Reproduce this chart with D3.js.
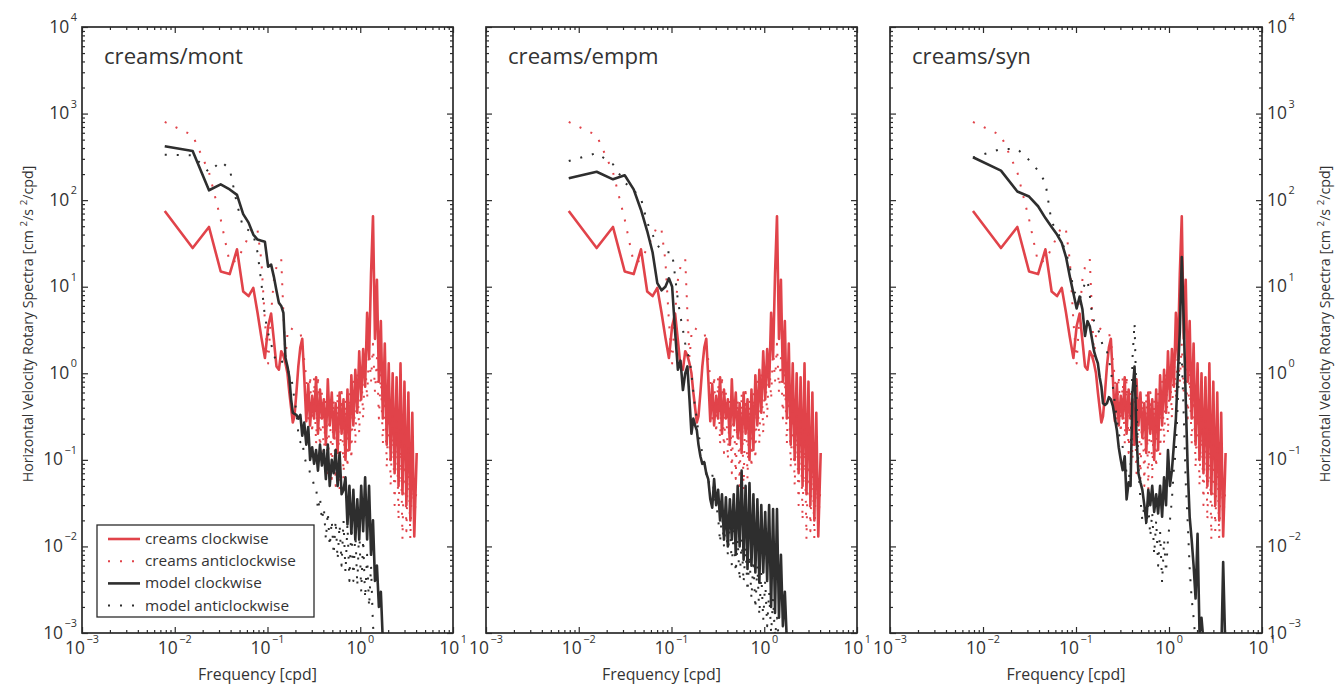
<!DOCTYPE html>
<html><head><meta charset="utf-8">
<script src="https://cdn.jsdelivr.net/npm/d3@7"></script>
<style>
body{margin:0;background:#fff}
svg{display:block}
text{font-family:"Open Sans",sans-serif;fill:#333}
</style>
</head><body>
<svg id="c" width="1340" height="685"></svg>
<script>
// ---------------- DATA ----------------
const FREQ = [
  0.0078, 0.0156, 0.0234, 0.0313, 0.0391, 0.0469, 0.0547, 0.0625, 0.0703, 0.0781,
  0.0859, 0.0938, 0.1016, 0.1094, 0.1172, 0.125, 0.1328, 0.1406, 0.1484, 0.1563,
  0.1641, 0.1719, 0.1797, 0.1875, 0.1953,
  0.205, 0.215, 0.226, 0.237, 0.249, 0.262, 0.275, 0.288, 0.303, 0.318,
  0.334, 0.350, 0.368, 0.386, 0.405, 0.426, 0.447, 0.469, 0.493, 0.517,
  0.543, 0.570, 0.599, 0.629, 0.660, 0.693, 0.728, 0.764, 0.802, 0.843,
  0.885, 0.929, 0.975, 1.024, 1.075, 1.129, 1.186, 1.245, 1.307, 1.372,
  1.441, 1.513, 1.589, 1.668, 1.752, 1.839, 1.931, 2.028, 2.129, 2.236,
  2.347, 2.465, 2.588, 2.717, 2.853, 2.996, 3.146, 3.303, 3.468, 3.641,
  3.823, 4.06
];
// observed (creams) — same in every panel
const CREAMS_CW = [
  75, 28, 49, 15, 14, 27, 8.8, 7.8, 9.7, 5.0,
  2.6, 1.5, 3.5, 4.9, 2.4, 1.2, 1.1, 1.8, 1.6, 1.3,
  1.0, 0.6, 0.4, 0.27, 0.32,
  0.6, 1.2, 2.0, 2.5, 0.9, 0.28, 0.75, 0.25, 0.55, 0.3,
  0.9, 0.2, 0.65, 0.3, 0.5, 0.15, 0.85, 0.25, 0.6, 0.18,
  0.45, 0.12, 0.6, 0.2, 0.5, 0.1, 0.65, 0.13, 0.95, 0.25,
  1.1, 0.35, 1.8, 0.5, 1.9, 0.7, 5, 1.5, 14, 65,
  2.5, 12, 0.8, 4, 0.3, 2.2, 0.15, 1.3, 0.1, 1.0,
  0.07, 0.9, 0.05, 1.3, 0.04, 0.8, 0.03, 0.6, 0.02, 0.35,
  0.013, 0.12
];
const CREAMS_ACW = [
  800, 560, 210, 60, 19, 20, 28, 38, 50, 45,
  20, 4, 1.3, 5, 12, 17, 19, 21, 5, 1.5,
  2.8, 3.4, 3.3, 3.2, 3.2,
  3.1, 3.0, 2.9, 2.4, 1.4, 0.9, 0.3, 0.95, 0.2, 0.9,
  0.15, 0.95, 0.12, 0.6, 0.1, 0.5, 0.07, 0.45, 0.06, 0.5,
  0.05, 0.6, 0.045, 0.7, 0.06, 0.5, 0.08, 0.6, 0.1, 0.8,
  0.15, 1.0, 0.2, 1.2, 0.3, 1.5, 0.5, 2.0, 0.8, 2.2,
  0.6, 1.5, 0.3, 1.0, 0.15, 0.8, 0.08, 0.5, 0.05, 0.35,
  0.03, 0.3, 0.02, 0.25, 0.012, 0.2, 0.015, 0.15, 0.012, 0.1,
  0.02, 0.05
];
// model runs (each series ends where its curve leaves the axes)
const MONT_CW = [
  420, 370, 130, 152, 133, 115, 69, 55, 40, 35,
  34, 33, 17, 18, 13, 9, 6.5, 6, 5, 1.5,
  1.2, 0.9, 0.5, 0.35, 0.34,
  0.33, 0.3, 0.33, 0.19, 0.27, 0.15, 0.24, 0.1, 0.14, 0.09,
  0.13, 0.075, 0.15, 0.086, 0.13, 0.06, 0.15, 0.05, 0.1, 0.07,
  0.13, 0.05, 0.12, 0.04, 0.045, 0.063, 0.018, 0.05, 0.014, 0.045,
  0.012, 0.035, 0.012, 0.05, 0.015, 0.063, 0.012, 0.05, 0.008, 0.02,
  0.004, 0.006, 0.002, 0.003, 0.0008
];
const MONT_ACW = [
  335, 330, 210, 280, 230, 90, 48, 45, 40, 25,
  11, 4.5, 2.9, 2.2, 1.6, 1.4, 1.5, 1.4, 1.3, 1.2,
  1.1, 1.0, 0.96, 0.67, 0.5,
  0.36, 0.2, 0.16, 0.17, 0.11, 0.09, 0.086, 0.07, 0.063, 0.05,
  0.05, 0.026, 0.037, 0.02, 0.028, 0.012, 0.025, 0.01, 0.02, 0.008,
  0.02, 0.007, 0.018, 0.006, 0.02, 0.005, 0.018, 0.004, 0.017, 0.004,
  0.015, 0.0035, 0.017, 0.003, 0.012, 0.0025, 0.008, 0.002, 0.006, 0.0012,
  0.0008
];
const EMPM_CW = [
  179, 213, 174, 194, 133, 77, 44, 25, 11, 9.1,
  10, 12.5, 10, 3, 1.1, 1.4, 0.64, 1.0, 1.2, 0.5,
  0.2, 0.3, 0.25, 0.22, 0.15,
  0.11, 0.09, 0.093, 0.07, 0.06, 0.035, 0.028, 0.06, 0.03, 0.045,
  0.02, 0.04, 0.012, 0.037, 0.01, 0.035, 0.012, 0.04, 0.008, 0.05,
  0.01, 0.075, 0.007, 0.05, 0.0055, 0.054, 0.006, 0.04, 0.005, 0.035,
  0.0038, 0.03, 0.005, 0.025, 0.004, 0.03, 0.002, 0.027, 0.0017, 0.027,
  0.0015, 0.008, 0.0012, 0.003, 0.0008
];
const EMPM_ACW = [
  283, 350, 260, 160, 130, 105, 55, 40, 30, 27,
  25, 25, 25, 13, 7, 4.5, 3.2, 2.2, 1.7, 1.5,
  1.0, 0.6, 0.4, 0.3, 0.2,
  0.155, 0.12, 0.093, 0.07, 0.053, 0.06, 0.07, 0.04, 0.03, 0.022,
  0.011, 0.025, 0.01, 0.02, 0.008, 0.018, 0.006, 0.015, 0.005, 0.012,
  0.004, 0.012, 0.0038, 0.01, 0.003, 0.008, 0.0025, 0.007, 0.0019, 0.006,
  0.0016, 0.005, 0.0014, 0.004, 0.0012, 0.003, 0.001, 0.0025, 0.0009, 0.0015,
  0.0008
];
const SYN_CW = [
  313, 219, 126, 110, 85, 62, 49, 40, 32, 22,
  13, 8.4, 5.6, 7.7, 5.5, 2.7, 4.0, 3.5, 2.5, 1.8,
  1.5, 1.3, 0.9, 0.7, 0.45,
  0.43, 0.45, 0.53, 0.5, 0.42, 0.3, 0.22, 0.14, 0.1, 0.076,
  0.11, 0.035, 0.055, 0.05, 0.6, 1.2, 0.19, 0.07, 0.055, 0.045,
  0.03, 0.019, 0.045, 0.03, 0.05, 0.025, 0.04, 0.024, 0.05, 0.022,
  0.063, 0.03, 0.13, 0.05, 0.076, 0.15, 0.3, 1.0, 3, 22,
  4, 0.5, 0.08, 0.022, 0.012, 0.006, 0.0025, 0.014, 0.001, 0.0015,
  0.0008, 0.0005, 0.0005, 0.0005, 0.0005, 0.0005, 0.0005, 0.0005, 0.0005, 0.0005,
  0.0066, 0.0005
];
const SYN_ACW = [
  310, 390, 390, 290, 220, 160, 55, 45, 33, 25,
  17, 9, 8, 7, 9, 11, 12, 8, 5, 4,
  3.5, 3.2, 2.9, 2.4, 2.0,
  2.0, 1.8, 1.4, 1.1, 0.7, 0.45, 0.3, 0.2, 0.17, 0.14,
  0.1, 0.07, 0.06, 0.08, 1.5, 3.8, 0.5, 0.08, 0.035, 0.02,
  0.03, 0.017, 0.03, 0.013, 0.025, 0.008, 0.02, 0.006, 0.015, 0.0038,
  0.012, 0.005, 0.012, 0.02, 0.035, 0.08, 0.13, 0.5, 1.4, 1.5,
  0.32, 0.055, 0.019, 0.0056, 0.0025, 0.0015, 0.0008
];
const PANEL_TITLES = ["creams/mont", "creams/empm", "creams/syn"];
const MODEL_CW = [MONT_CW, EMPM_CW, SYN_CW];
const MODEL_ACW = [MONT_ACW, EMPM_ACW, SYN_ACW];
const X_TICKS = [1e-3, 1e-2, 1e-1, 1, 10];
const X_TICK_EXP = ["\u22123", "\u22122", "\u22121", "0", "1"];
const Y_TICKS = [1e-3, 1e-2, 1e-1, 1, 10, 100, 1000, 10000];
const Y_TICK_EXP = ["\u22123", "\u22122", "\u22121", "0", "1", "2", "3", "4"];
const LEGEND_LABELS = ["creams clockwise", "creams anticlockwise", "model clockwise", "model anticlockwise"];
const X_LABEL = "Frequency [cpd]";

// ---------------- LAYOUT / STYLE ----------------
const TOP = 27, BOTTOM = 633;
const PANEL_X = [[82, 453], [486, 857], [890, 1262]];
const RED = "#e1434a", BLACK = "#2e2e2e", AXIS = "#2b2b2b";
const SOLID_W = 2.6, DOT_W = 2, DOT_DASH = "2,10";

const svg = d3.select("#c");
const y = d3.scaleLog().domain([1e-3, 1e4]).range([BOTTOM, TOP]);

// font size giving a string a target width
function fitSize(str, target, base) {
  const t = svg.append("text").attr("font-size", base).text(str);
  const w = t.node().getComputedTextLength();
  t.remove();
  return w > 0 ? base * target / w : base;
}
const TICK_FS = fitSize("10", 20, 16);
const EXP_FS = TICK_FS * 0.62;
const TITLE_FS = fitSize("creams/mont", 139, 22);
const XLAB_FS = fitSize(X_LABEL, 119, 15);
const LEG_FS = fitSize("creams anticlockwise", 151, 15);

function minorTicks(lo, hi) {
  const out = [];
  for (let e = lo; e < hi; e++) for (let m = 2; m <= 9; m++) out.push(m * Math.pow(10, e));
  return out;
}
const xMinor = minorTicks(-3, 1), yMinor = minorTicks(-3, 4);

function powLabel(sel, exp) {
  sel.append("tspan").text("10").attr("font-size", TICK_FS);
  sel.append("tspan").text(exp).attr("font-size", EXP_FS).attr("dy", -11.5).attr("dx", 1.5);
}

PANEL_TITLES.forEach((title, i) => {
  const [x0, x1] = PANEL_X[i];
  const x = d3.scaleLog().domain([1e-3, 10]).range([x0, x1]);
  const g = svg.append("g");

  g.append("clipPath").attr("id", "clip" + i)
    .append("rect").attr("x", x0).attr("y", TOP).attr("width", x1 - x0).attr("height", BOTTOM - TOP);

  const plot = g.append("g").attr("clip-path", `url(#clip${i})`);
  const line = d3.line()
    .defined(d => d.v != null)
    .x(d => x(d.f)).y(d => y(d.v));
  const toPts = arr => FREQ.map((f, k) => ({ f, v: k < arr.length ? arr[k] : null }));

  const series = [
    { data: CREAMS_CW, color: RED, dash: null },
    { data: CREAMS_ACW, color: RED, dash: DOT_DASH },
    { data: MODEL_CW[i], color: BLACK, dash: null },
    { data: MODEL_ACW[i], color: BLACK, dash: DOT_DASH }
  ];
  series.forEach(s => {
    plot.append("path").datum(toPts(s.data))
      .attr("d", line)
      .attr("fill", "none")
      .attr("stroke", s.color)
      .attr("stroke-width", s.dash ? DOT_W : SOLID_W)
      .attr("stroke-dasharray", s.dash)
      .attr("stroke-linejoin", "round");
  });

  // inward ticks on all four sides
  const axes = [
    [d3.axisBottom, x, `translate(0,${BOTTOM})`, X_TICKS, xMinor],
    [d3.axisTop, x, `translate(0,${TOP})`, X_TICKS, xMinor],
    [d3.axisLeft, y, `translate(${x0},0)`, Y_TICKS, yMinor],
    [d3.axisRight, y, `translate(${x1},0)`, Y_TICKS, yMinor]
  ];
  axes.forEach(([fn, sc, tr, major, minor]) => {
    [[major, 6], [minor, 3]].forEach(([vals, len]) => {
      const a = g.append("g").attr("transform", tr)
        .call(fn(sc).tickValues(vals).tickSize(-len).tickSizeOuter(0).tickFormat(""));
      a.select(".domain").remove();
      a.selectAll("line").attr("stroke", AXIS).attr("stroke-width", 1.2);
    });
  });
  g.append("rect").attr("x", x0).attr("y", TOP).attr("width", x1 - x0).attr("height", BOTTOM - TOP)
    .attr("fill", "none").attr("stroke", AXIS).attr("stroke-width", 1.7);

  // x tick labels
  X_TICKS.forEach((t, k) => {
    const tx = g.append("text").attr("x", x(t)).attr("y", BOTTOM + 21).attr("text-anchor", "middle");
    powLabel(tx, X_TICK_EXP[k]);
  });
  // y tick labels (left panel on the left, right panel on the right)
  if (i === 0 || i === 2) {
    Y_TICKS.forEach((t, k) => {
      const ty = g.append("text").attr("y", y(t) + 5.5)
        .attr("x", i === 0 ? x0 - 5 : x1 + 5)
        .attr("text-anchor", i === 0 ? "end" : "start");
      powLabel(ty, Y_TICK_EXP[k]);
    });
  }
  // panel title
  g.append("text").attr("x", x0 + 22).attr("y", 64).attr("font-size", TITLE_FS).text(title);
  // x axis title
  g.append("text").attr("x", (x0 + x1) / 2 - 10).attr("y", 680)
    .attr("text-anchor", "middle").attr("font-size", XLAB_FS).text(X_LABEL);

  // legend
  if (i === 0) {
    const lg = g.append("g");
    lg.append("rect").attr("x", 97).attr("y", 525).attr("width", 217).attr("height", 92)
      .attr("fill", "#fff").attr("stroke", AXIS).attr("stroke-width", 1.3);
    LEGEND_LABELS.forEach((lab, k) => {
      const s = series[k];
      const ly = 539 + k * 22.2;
      lg.append("line").attr("x1", 108).attr("x2", 140).attr("y1", ly).attr("y2", ly)
        .attr("stroke", s.color).attr("stroke-width", s.dash ? DOT_W : SOLID_W)
        .attr("stroke-dasharray", s.dash);
      lg.append("text").attr("x", 145).attr("y", ly + 5).attr("font-size", LEG_FS).text(lab);
    });
  }
});

// y axis titles (left and right)
function yTitle(xpos) {
  const t = svg.append("text")
    .attr("transform", `translate(${xpos},324) rotate(-90)`)
    .attr("text-anchor", "middle").attr("font-size", 14);
  t.append("tspan").text("Horizontal Velocity Rotary Spectra [cm ");
  t.append("tspan").attr("class", "sup").text("2").attr("dy", -6);
  t.append("tspan").text("/s ").attr("dy", 6);
  t.append("tspan").attr("class", "sup").text("2").attr("dy", -6);
  t.append("tspan").text("/cpd]").attr("dy", 6);
  const w = t.node().getComputedTextLength();
  const fs = w > 0 ? 14 * 322 / w : 14;
  t.attr("font-size", fs);
  t.selectAll("tspan.sup").attr("font-size", fs * 0.68);
}
yTitle(33);
yTitle(1330);
</script>
</body></html>
